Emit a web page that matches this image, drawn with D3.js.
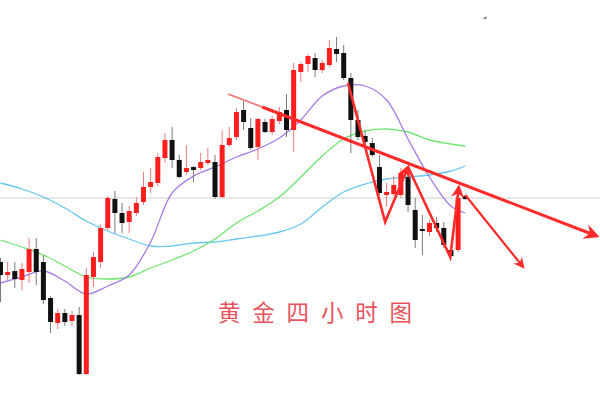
<!DOCTYPE html>
<html>
<head>
<meta charset="utf-8">
<script src="https://cdn.jsdelivr.net/npm/d3@7"></script>
<style>
html,body{margin:0;padding:0;background:#fff;}
svg{display:block;}
</style>
</head>
<body>
<svg id="chart" width="600" height="400"></svg>
<script>
// ---- Data (gold 4H candles) ----
const opens  = [1287.6,1285.0,1285.8,1284.0,1285.6,1290.2,1287.6,1280.4,1275.4,1277.4,1275.8,1277.0,1265.2,1284.6,1287.6,1294.4,1300.2,1297.4,1295.6,1297.4,1299.6,1302.6,1303.4,1308.4,1312.0,1308.0,1305.6,1306.6,1306.4,1307.4,1307.6,1300.6,1311.0,1312.6,1318.0,1314.4,1310.6,1315.6,1313.6,1315.8,1318.0,1314.0,1325.6,1327.2,1328.4,1326.0,1327.0,1330.2,1329.4,1324.4,1316.0,1312.8,1311.4,1306.6,1301.0,1301.2,1301.0,1304.6,1298.0,1294.2,1293.6,1295.4,1294.4,1290.0,1290.0,1300.8];
const highs  = [1288.4,1287.6,1287.6,1287.4,1292.4,1292.4,1289.0,1280.8,1278.2,1278.2,1277.8,1278.6,1286.4,1289.6,1295.0,1300.8,1301.8,1299.4,1298.8,1300.6,1305.6,1306.4,1309.4,1313.4,1314.6,1309.0,1311.0,1306.8,1309.4,1310.4,1309.0,1314.0,1314.6,1318.4,1319.8,1316.4,1316.4,1316.2,1316.8,1318.6,1321.2,1327.4,1327.6,1329.2,1329.4,1328.0,1332.0,1332.6,1331.0,1325.4,1318.0,1314.0,1312.4,1309.0,1303.4,1304.8,1306.4,1306.0,1300.4,1297.0,1296.0,1296.6,1295.6,1290.6,1302.4,1301.0];
const lows   = [1279.6,1284.0,1282.4,1282.0,1283.4,1283.0,1279.2,1273.4,1274.2,1274.8,1274.8,1265.0,1265.0,1282.6,1286.4,1294.0,1293.4,1293.4,1293.4,1296.8,1299.0,1301.4,1302.8,1307.4,1306.4,1304.4,1305.0,1303.6,1306.0,1307.0,1300.2,1300.4,1310.6,1312.0,1314.0,1310.0,1308.0,1313.4,1313.0,1315.2,1312.6,1309.6,1323.6,1325.6,1324.6,1325.4,1326.6,1327.6,1324.0,1309.4,1312.0,1311.0,1308.6,1301.0,1298.6,1300.8,1300.4,1297.6,1290.4,1289.0,1292.8,1293.6,1290.4,1288.4,1289.6,1300.0];
const closes = [1285.0,1285.6,1284.2,1286.2,1290.2,1285.6,1280.0,1275.6,1277.4,1275.6,1277.0,1265.2,1285.0,1288.6,1294.4,1300.4,1297.4,1295.4,1297.8,1299.4,1302.6,1303.6,1308.6,1312.0,1308.0,1304.6,1306.4,1306.0,1307.6,1308.0,1300.6,1311.0,1312.4,1317.6,1315.6,1310.4,1316.2,1313.6,1316.2,1317.6,1314.0,1326.0,1327.2,1328.8,1326.0,1327.4,1330.4,1329.2,1324.4,1316.0,1312.6,1311.6,1309.0,1301.4,1301.6,1303.0,1305.4,1299.0,1292.0,1293.8,1295.4,1294.4,1291.0,1288.8,1300.4,1300.2];

// moving averages sampled at candle indices
const maIndex = [0,3,6,9,12,15,18,21,24,27,30,33,36,39,42,45,48,51,54,57,60,63,65];
const maFast  = [1283.4,1284.6,1285.8,1283.8,1281.2,1282.8,1285.0,1291.6,1301.4,1304.8,1306.6,1308.6,1310.2,1312.4,1316.0,1320.8,1322.8,1322.8,1320.0,1312.2,1304.6,1298.8,1297.4];
const maMid   = [1292.0,1290.6,1289.0,1286.8,1284.6,1284.2,1284.6,1286.4,1288.0,1289.8,1292.2,1295.4,1297.8,1300.6,1304.6,1308.8,1312.2,1313.8,1314.2,1313.6,1312.0,1311.2,1310.8];
const maSlow  = [1303.4,1302.2,1300.6,1298.4,1295.8,1293.8,1292.2,1290.8,1290.8,1291.4,1291.6,1292.2,1292.8,1293.6,1295.2,1298.6,1301.6,1303.2,1304.2,1304.6,1305.0,1305.8,1306.8];

const priceLine = 1300.4;

// hand-drawn analysis lines: [index, price]
const trendThin  = [[31.8,1321.2],[36.6,1318.6]];
const trendMain  = [[36.6,1318.6],[83.4,1292.8]];
const zigzag1    = [[48.6,1323.4],[53.8,1295.6],[57.0,1306.6]];
const zigzag2    = [[57.0,1306.6],[62.9,1288.6],[64.1,1302.6]];
const arrow3     = [[65.0,1301.0],[73.1,1286.6]];

const title = "黄金四小时图";

// ---- Scales ----
const W = 600, H = 400;
const x = d3.scaleLinear().domain([0, 65]).range([0.5, 0.5 + 65 * 7.15]);
const y = d3.scaleLinear().domain([1260, 1340]).range([400, 0]);

const svg = d3.select("#chart");
svg.append("rect").attr("width", W).attr("height", H).attr("fill", "#fff");

const defs = svg.append("defs");
defs.append("marker").attr("id", "arr")
  .attr("viewBox", "0 0 10 10").attr("refX", 8).attr("refY", 5)
  .attr("markerWidth", 5).attr("markerHeight", 5).attr("orient", "auto")
  .attr("markerUnits", "strokeWidth")
  .append("path").attr("d", "M0,0 L10,5 L0,10 L3,5 Z").attr("fill", "#ff2a2a");

// price line
svg.append("line")
  .attr("x1", 0).attr("x2", W)
  .attr("y1", y(priceLine)).attr("y2", y(priceLine))
  .attr("stroke", "#cfcfcf").attr("stroke-width", 1);

// moving averages
const maLine = d3.line().x(d => x(d[0])).y(d => y(d[1])).curve(d3.curveCatmullRom.alpha(0.5));
[[maSlow, "#66c8ee"], [maMid, "#6ee66e"], [maFast, "#a67be6"]].forEach(([vals, col]) => {
  svg.append("path")
    .datum(maIndex.map((i, k) => [i, vals[k]]))
    .attr("d", maLine).attr("fill", "none")
    .attr("stroke", col).attr("stroke-width", 1.3);
});

// candles
const candles = opens.map((o, i) => ({i, o, h: highs[i], l: lows[i], c: closes[i]}));
const g = svg.append("g");
const bw = 5;
candles.forEach(d => {
  const up = d.c >= d.o;
  g.append("line")
    .attr("x1", x(d.i)).attr("x2", x(d.i))
    .attr("y1", y(d.h)).attr("y2", y(d.l))
    .attr("stroke", up ? "#f47a7a" : "#7a7a7a").attr("stroke-width", 1);
  const top = y(Math.max(d.o, d.c)), bot = y(Math.min(d.o, d.c));
  g.append("rect")
    .attr("x", x(d.i) - bw / 2).attr("width", bw)
    .attr("y", top).attr("height", Math.max(1.5, bot - top))
    .attr("fill", up ? "#ff1e1e" : "#111");
});

// analysis lines
const pl = d3.line().x(d => x(d[0])).y(d => y(d[1]));
svg.append("path").datum(trendThin).attr("d", pl)
  .attr("fill", "none").attr("stroke", "#f27272").attr("stroke-width", 1.6);
svg.append("path").datum(trendMain).attr("d", pl)
  .attr("fill", "none").attr("stroke", "#ff2a2a").attr("stroke-width", 3)
  .attr("marker-end", "url(#arr)");
[zigzag1, zigzag2].forEach(z => {
  svg.append("path").datum(z).attr("d", pl)
    .attr("fill", "none").attr("stroke", "#ff2a2a").attr("stroke-width", 2.6)
    .attr("stroke-linejoin", "miter").attr("marker-end", "url(#arr)");
});
svg.append("path").datum(arrow3).attr("d", pl)
  .attr("fill", "none").attr("stroke", "#ff2a2a").attr("stroke-width", 2.2)
  .attr("marker-end", "url(#arr)");

// small mark at top right
svg.append("path")
  .attr("d", `M${x(67.4)},${y(1336.2)} l4,-3 l0,3 Z`)
  .attr("fill", "#888");

// title
svg.append("text")
  .attr("x", 218).attr("y", 311)
  .attr("dominant-baseline", "central")
  .attr("font-family", "'Noto Sans CJK SC', sans-serif")
  .attr("font-size", 22.5)
  .attr("letter-spacing", "11.8px")
  .attr("fill", "#e8525c")
  .text(title);
</script>
</body>
</html>
